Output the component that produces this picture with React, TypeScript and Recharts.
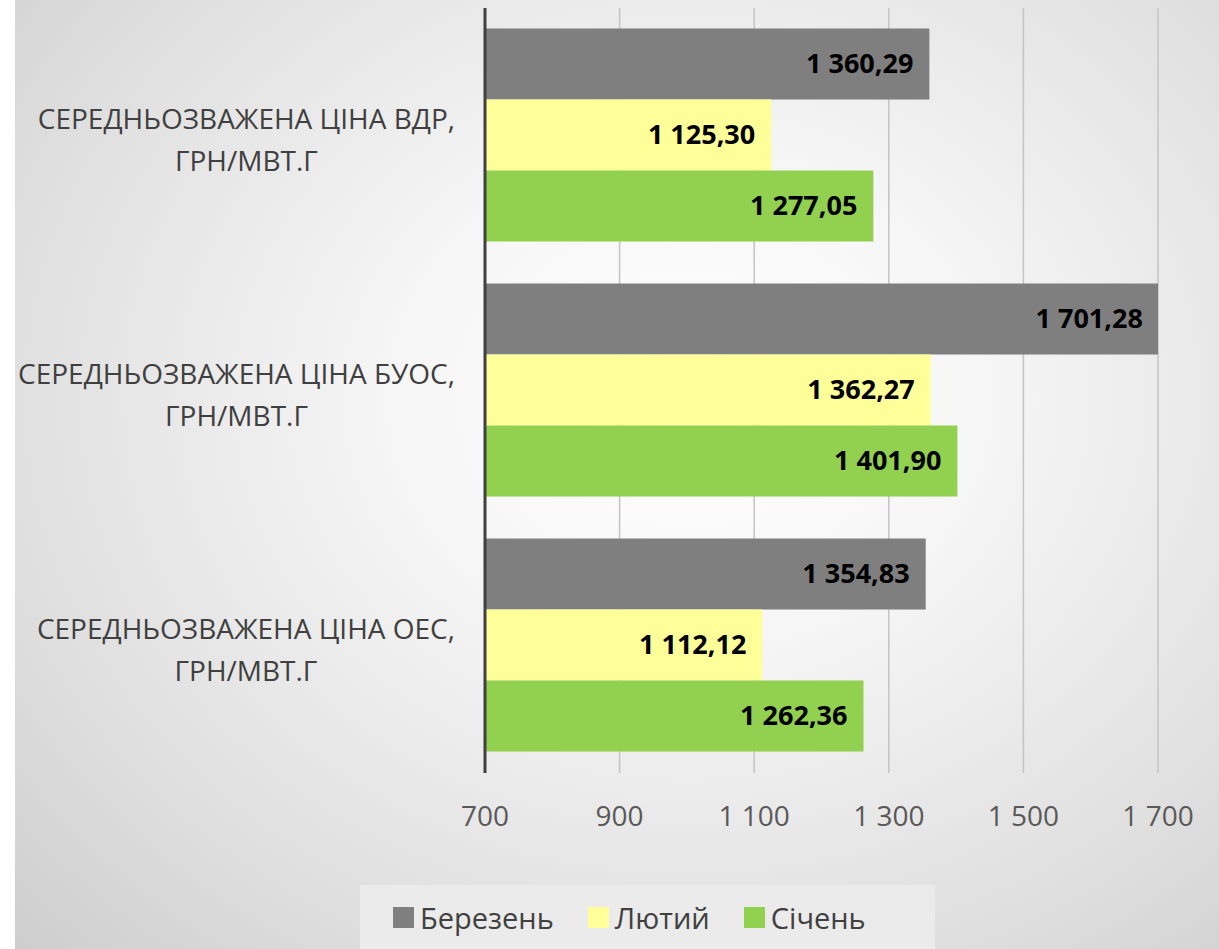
import React from "react";
import {
  BarChart,
  Bar,
  XAxis,
  YAxis,
  CartesianGrid,
  LabelList,
  Legend,
} from "recharts";

const categories = [
  ["СЕРЕДНЬОЗВАЖЕНА ЦІНА ВДР,", "ГРН/МВТ.Г"],
  ["СЕРЕДНЬОЗВАЖЕНА ЦІНА БУОС,", "ГРН/МВТ.Г"],
  ["СЕРЕДНЬОЗВАЖЕНА ЦІНА ОЕС,", "ГРН/МВТ.Г"],
];
const berezen = [1360.29, 1701.28, 1354.83];
const lyutyi = [1125.3, 1362.27, 1112.12];
const sichen = [1277.05, 1401.9, 1262.36];
const xTicks = [700, 900, 1100, 1300, 1500, 1700];

const data = categories.map((c, i) => ({
  name: c.join("\n"),
  berezen: berezen[i],
  lyutyi: lyutyi[i],
  sichen: sichen[i],
}));

const FONT = "'Open Sans', sans-serif";
const CAT_SIZE = 28;

const groupThousands = (s: string) => s.replace(/\B(?=(\d{3})+(?!\d))/g, " ");
const fmtTick = (v: number) => groupThousands(String(v));
const fmtValue = (v: number) => {
  const [int, dec] = Number(v).toFixed(2).split(".");
  return `${groupThousands(int)},${dec}`;
};

let measureCtx: CanvasRenderingContext2D | null = null;
const textWidth = (s: string, font: string) => {
  if (!measureCtx) measureCtx = document.createElement("canvas").getContext("2d");
  if (!measureCtx) return s.length * 15;
  measureCtx.font = font;
  return measureCtx.measureText(s).width;
};

// two-line label: first line right-aligned to the tick, second centred under it
const CategoryTick = (props: any) => {
  const { x, y, payload } = props;
  const [l1, l2] = String(payload.value).split("\n");
  const w = textWidth(l1, `${CAT_SIZE}px 'Open Sans'`);
  const cx = x - w / 2;
  return (
    <g>
      <text x={cx} y={y - 18} textAnchor="middle" dominantBaseline="central"
        fill="#404040" fontSize={CAT_SIZE} fontFamily={FONT}>{l1}</text>
      <text x={cx} y={y + 24} textAnchor="middle" dominantBaseline="central"
        fill="#404040" fontSize={CAT_SIZE} fontFamily={FONT}>{l2}</text>
    </g>
  );
};

const LegendBox = (props: any) => {
  const { payload } = props;
  return (
    <div style={{
      width: 575, height: 64, background: "#ebebeb", display: "flex",
      alignItems: "center", justifyContent: "flex-start", gap: 34,
      paddingLeft: 33, boxSizing: "border-box",
      fontFamily: FONT, fontSize: 29, color: "#404040",
    }}>
      {(payload || []).map((p: any) => (
        <div key={p.value} style={{ display: "flex", alignItems: "center" }}>
          <span style={{ width: 21, height: 21, background: p.color, display: "inline-block", marginRight: 6 }} />
          <span>{p.value}</span>
        </div>
      ))}
    </div>
  );
};

export default function App() {
  return (
    <div style={{ position: "absolute", left: 0, top: 0, width: 1219, height: 949, background: "#ffffff" }}>
      <div style={{
        position: "absolute", left: 15, top: 0, width: 1204, height: 949,
        background: "radial-gradient(ellipse 80% 85% at 56% 42%, #ffffff 0%, #f6f6f6 30%, #e0e0e0 70%, #cccccc 100%)",
      }} />
      <div style={{ position: "absolute", left: 0, top: 0 }}>
        <BarChart
          width={1219}
          height={949}
          data={data}
          layout="vertical"
          margin={{ top: 8, right: 61, bottom: 0, left: 0 }}
          barCategoryGap="8%"
          barGap={0}
        >
          <CartesianGrid horizontal={false} stroke="#c4c4c4" strokeWidth={1.5} />
          <XAxis
            type="number"
            domain={[700, 1700]}
            ticks={xTicks}
            allowDataOverflow
            axisLine={false}
            tickLine={false}
            tickSize={0}
            tickMargin={33}
            height={176}
            tickFormatter={fmtTick}
            tick={{ fill: "#595959", fontSize: 28, fontFamily: FONT }}
          />
          <YAxis
            type="category"
            dataKey="name"
            width={485}
            axisLine={{ stroke: "#404040", strokeWidth: 3 }}
            tickLine={false}
            tickSize={0}
            tickMargin={30}
            tick={<CategoryTick />}
          />
          <Legend
            verticalAlign="middle"
            align="center"
            content={<LegendBox />}
            wrapperStyle={{ left: 360, top: 885, width: 575, height: 64 }}
          />
          <Bar dataKey="berezen" name="Березень" fill="#7f7f7f" isAnimationActive={false}>
            <LabelList dataKey="berezen" position="insideRight" offset={16} formatter={fmtValue as any}
              fill="#000000" fontSize={27} fontWeight={700} fontFamily={FONT} />
          </Bar>
          <Bar dataKey="lyutyi" name="Лютий" fill="#ffff99" isAnimationActive={false}>
            <LabelList dataKey="lyutyi" position="insideRight" offset={16} formatter={fmtValue as any}
              fill="#000000" fontSize={27} fontWeight={700} fontFamily={FONT} />
          </Bar>
          <Bar dataKey="sichen" name="Січень" fill="#92d050" isAnimationActive={false}>
            <LabelList dataKey="sichen" position="insideRight" offset={16} formatter={fmtValue as any}
              fill="#000000" fontSize={27} fontWeight={700} fontFamily={FONT} />
          </Bar>
        </BarChart>
      </div>
    </div>
  );
}
